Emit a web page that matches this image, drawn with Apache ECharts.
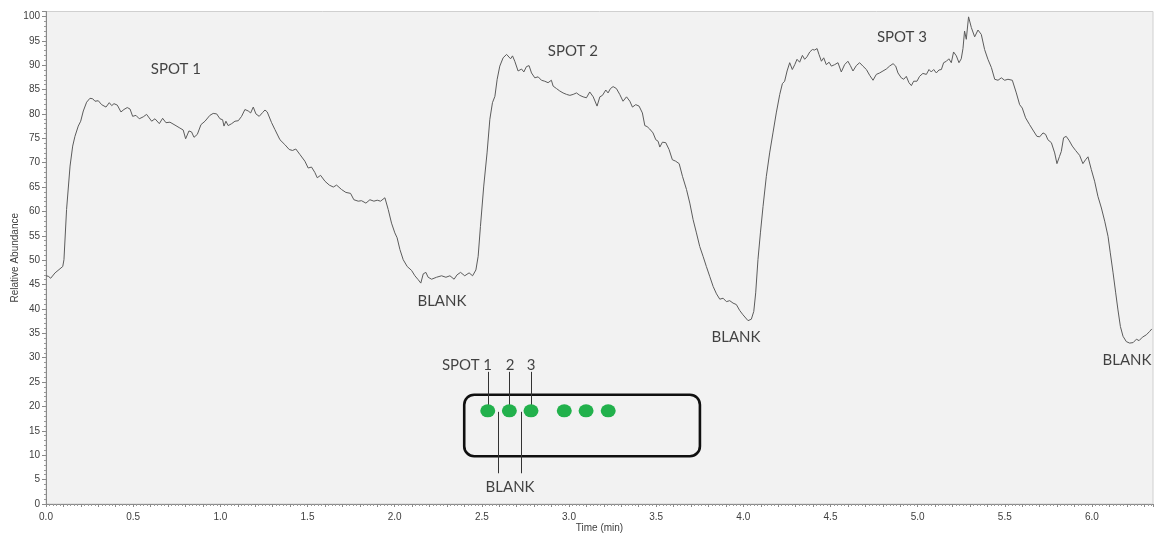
<!DOCTYPE html>
<html>
<head>
<meta charset="utf-8">
<title>Relative Abundance vs Time</title>
<script src="https://cdn.jsdelivr.net/npm/echarts@6/dist/echarts.min.js"></script>
<style>
  html, body { margin: 0; padding: 0; background: #ffffff; }
  #chart { width: 1154px; height: 535px; }
</style>
</head>
<body>
<div id="chart"></div>
<script>
// Chromatogram trace: retention time (min) and relative abundance (%)
const time = [
  0.000, 0.013, 0.027, 0.052, 0.096, 0.103, 0.118, 0.138, 0.153, 0.166, 0.185, 0.199, 0.214, 0.233, 0.252, 0.268,
  0.281, 0.300, 0.319, 0.344, 0.363, 0.377, 0.390, 0.409, 0.430, 0.447, 0.466, 0.482, 0.497, 0.516, 0.535, 0.558,
  0.577, 0.606, 0.625, 0.650, 0.669, 0.688, 0.711, 0.740, 0.768, 0.787, 0.801, 0.820, 0.835, 0.849, 0.868, 0.889,
  0.912, 0.940, 0.959, 0.979, 0.998, 1.013, 1.021, 1.032, 1.045, 1.065, 1.084, 1.103, 1.122, 1.141, 1.160, 1.174,
  1.189, 1.204, 1.223, 1.243, 1.256, 1.269, 1.294, 1.313, 1.342, 1.370, 1.395, 1.414, 1.433, 1.456, 1.485, 1.504,
  1.523, 1.542, 1.556, 1.575, 1.600, 1.625, 1.648, 1.667, 1.695, 1.720, 1.747, 1.766, 1.791, 1.810, 1.835, 1.858,
  1.881, 1.900, 1.919, 1.944, 1.963, 1.982, 2.001, 2.014, 2.030, 2.049, 2.072, 2.097, 2.116, 2.135, 2.150, 2.164,
  2.179, 2.192, 2.212, 2.240, 2.269, 2.294, 2.317, 2.341, 2.358, 2.378, 2.402, 2.427, 2.447, 2.466, 2.479, 2.492,
  2.511, 2.530, 2.546, 2.561, 2.575, 2.588, 2.603, 2.622, 2.642, 2.651, 2.665, 2.676, 2.689, 2.708, 2.728, 2.741,
  2.756, 2.771, 2.785, 2.804, 2.823, 2.842, 2.861, 2.880, 2.899, 2.909, 2.928, 2.947, 2.966, 2.986, 3.005, 3.024,
  3.043, 3.062, 3.081, 3.100, 3.119, 3.139, 3.148, 3.161, 3.177, 3.192, 3.211, 3.224, 3.238, 3.253, 3.272, 3.291,
  3.310, 3.330, 3.349, 3.364, 3.383, 3.402, 3.421, 3.435, 3.448, 3.463, 3.482, 3.498, 3.511, 3.521, 3.536, 3.555,
  3.574, 3.593, 3.612, 3.632, 3.651, 3.674, 3.693, 3.712, 3.731, 3.750, 3.769, 3.788, 3.807, 3.827, 3.846, 3.865,
  3.884, 3.903, 3.922, 3.941, 3.960, 3.979, 3.998, 4.027, 4.046, 4.060, 4.071, 4.084, 4.098, 4.113, 4.132, 4.151,
  4.170, 4.189, 4.209, 4.224, 4.237, 4.251, 4.266, 4.281, 4.295, 4.308, 4.323, 4.339, 4.352, 4.365, 4.381, 4.396,
  4.409, 4.423, 4.434, 4.448, 4.461, 4.476, 4.492, 4.505, 4.524, 4.543, 4.562, 4.581, 4.600, 4.614, 4.629, 4.648,
  4.667, 4.686, 4.706, 4.725, 4.744, 4.763, 4.782, 4.801, 4.820, 4.839, 4.859, 4.874, 4.887, 4.906, 4.920, 4.935,
  4.950, 4.964, 4.977, 4.996, 5.011, 5.030, 5.050, 5.065, 5.078, 5.092, 5.107, 5.122, 5.136, 5.149, 5.165, 5.179,
  5.193, 5.206, 5.222, 5.237, 5.250, 5.260, 5.269, 5.279, 5.292, 5.308, 5.327, 5.346, 5.365, 5.375, 5.384, 5.403,
  5.423, 5.442, 5.461, 5.480, 5.499, 5.518, 5.543, 5.566, 5.585, 5.600, 5.619, 5.642, 5.661, 5.684, 5.700, 5.719,
  5.734, 5.747, 5.767, 5.786, 5.799, 5.814, 5.824, 5.837, 5.852, 5.868, 5.887, 5.906, 5.929, 5.948, 5.963, 5.977,
  5.996, 6.015, 6.034, 6.054, 6.073, 6.092, 6.105, 6.121, 6.136, 6.149, 6.163, 6.178, 6.197, 6.216, 6.236, 6.255,
  6.270, 6.289, 6.312, 6.331, 6.343
];
const abundance = [
  46.8, 46.7, 46.3, 47.4, 48.7, 50.1, 60.4, 69.3, 73.4, 75.4, 77.5, 78.5, 80.6, 82.4, 83.2, 83.1,
  82.6, 82.7, 81.9, 81.4, 82.3, 81.7, 82.1, 81.8, 80.4, 80.9, 81.3, 81.0, 79.5, 79.7, 79.0, 79.4,
  79.9, 78.5, 79.0, 78.0, 79.1, 78.2, 78.3, 77.7, 77.1, 76.7, 74.9, 76.5, 76.3, 75.2, 75.8, 77.8,
  78.5, 79.7, 80.1, 80.0, 79.0, 78.8, 77.5, 78.5, 77.6, 78.0, 78.5, 78.6, 79.5, 80.9, 80.6, 80.2,
  81.4, 80.0, 79.5, 80.3, 80.8, 80.4, 78.2, 76.8, 74.7, 73.7, 72.7, 72.5, 72.8, 71.7, 70.3, 68.9,
  69.1, 68.0, 66.9, 67.4, 66.2, 65.4, 65.0, 65.4, 64.5, 63.9, 63.7, 62.4, 62.1, 62.2, 61.7, 62.4,
  62.1, 62.3, 62.1, 62.8, 60.4, 57.6, 55.6, 54.6, 52.2, 50.1, 48.7, 47.9, 46.8, 46.0, 45.3, 47.2,
  47.5, 46.5, 46.1, 46.5, 46.8, 46.5, 46.8, 46.1, 47.0, 47.5, 46.8, 47.4, 46.8, 48.0, 50.8, 56.9,
  65.2, 72.0, 78.9, 82.3, 83.6, 87.1, 89.8, 91.5, 92.2, 92.4, 91.3, 91.9, 90.8, 88.8, 89.2, 88.6,
  89.7, 89.9, 88.4, 87.4, 87.6, 86.9, 86.7, 86.4, 86.9, 85.7, 85.2, 84.7, 84.3, 84.0, 83.8, 84.0,
  84.3, 83.8, 83.5, 83.3, 84.5, 83.5, 83.1, 81.6, 83.5, 83.8, 84.9, 84.3, 85.2, 85.6, 85.2, 84.0,
  82.6, 83.5, 82.6, 81.4, 81.9, 81.6, 80.2, 77.6, 77.4, 76.9, 76.1, 74.7, 74.4, 73.2, 74.2, 74.1,
  72.7, 70.6, 70.3, 69.8, 67.2, 64.5, 61.7, 58.3, 55.6, 52.8, 50.8, 48.7, 46.7, 44.6, 43.1, 42.0,
  42.2, 41.5, 41.7, 41.2, 40.9, 39.7, 38.8, 37.6, 37.9, 39.5, 43.3, 50.1, 55.6, 61.0, 67.2, 72.0,
  76.1, 80.2, 84.0, 86.2, 86.7, 88.8, 90.5, 89.1, 90.1, 91.2, 90.6, 92.0, 91.2, 91.7, 92.7, 93.2,
  93.1, 93.4, 92.2, 90.8, 91.5, 90.1, 90.6, 89.8, 90.1, 90.5, 88.6, 90.1, 90.8, 89.9, 88.8, 89.9,
  90.5, 89.8, 89.1, 87.9, 86.9, 88.1, 88.4, 88.8, 89.2, 89.8, 90.3, 89.8, 88.4, 87.4, 87.1, 87.7,
  86.4, 85.8, 86.7, 86.7, 87.7, 88.3, 88.1, 89.1, 88.6, 89.1, 88.4, 89.0, 89.1, 90.5, 90.8, 91.3,
  90.5, 92.7, 91.9, 90.5, 91.3, 93.4, 97.0, 95.3, 99.9, 97.7, 95.8, 97.2, 96.3, 96.0, 93.2, 91.2,
  89.5, 87.1, 86.9, 87.4, 86.9, 87.1, 86.9, 84.3, 81.9, 81.2, 79.2, 77.8, 76.7, 75.4, 75.3, 76.1,
  75.8, 74.7, 74.1, 72.0, 69.8, 71.3, 72.3, 75.1, 75.4, 74.6, 73.4, 72.5, 71.5, 69.8, 70.6, 71.2,
  68.6, 66.2, 63.1, 60.7, 58.0, 54.9, 51.5, 47.4, 43.3, 39.8, 36.4, 34.4, 33.3, 33.0, 33.1, 33.8,
  33.5, 34.2, 34.7, 35.4, 35.9
];

// Text annotations on the trace
const noteText = ['SPOT 1', 'SPOT 2', 'SPOT 3', 'BLANK', 'BLANK', 'BLANK'];
const notePos = [[0.745, 89.2], [3.022, 92.9], [4.910, 95.8], [2.271, 41.6], [3.958, 34.3], [6.201, 29.5]];

// Sample plate sketch: spot positions, labels, leader lines and outline
const plateSpots = [[2.534, 19.1], [2.658, 19.1], [2.782, 19.1], [2.973, 19.1], [3.098, 19.1], [3.225, 19.1]];
const plateText = ['SPOT 1', '2', '3', 'BLANK'];
const plateTextPos = [[2.415, 28.5], [2.662, 28.5], [2.782, 28.5], [2.662, 3.5]];
const plateLeaders = [
  [[2.534, 27.1], [2.534, 19.3]],
  [[2.658, 27.1], [2.658, 19.3]],
  [[2.782, 27.1], [2.782, 19.3]],
  [[2.594, 18.9], [2.594, 6.3]],
  [[2.725, 18.9], [2.725, 6.3]]
];
const plateOutline = [[2.399, 22.4, 3.751, 9.8]];

const traceData = time.map((t, i) => [t, abundance[i]]);
const textFont = 'Lato, "Open Sans", sans-serif';
const axisFont = '"Liberation Sans", Arial, sans-serif';

const chart = echarts.init(document.getElementById('chart'), null, { renderer: 'canvas' });

function textSeries(names, positions, z) {
  return {
    type: 'scatter',
    silent: true,
    symbol: 'circle',
    symbolSize: 1,
    itemStyle: { color: 'rgba(0,0,0,0)' },
    z: z,
    data: names.map((n, i) => ({ name: n, value: positions[i] })),
    label: {
      show: true,
      position: 'inside',
      formatter: '{b}',
      color: '#141414',
      fontFamily: textFont,
      fontSize: 15
    }
  };
}

chart.setOption({
  animation: false,
  backgroundColor: '#ffffff',
  grid: {
    left: 46, right: 1, top: 11.5, bottom: 31,
    containLabel: false,
    outerBoundsMode: 'none',
    show: true,
    backgroundColor: '#f2f2f2',
    borderColor: '#d0d0d0',
    borderWidth: 1
  },
  xAxis: {
    type: 'value',
    min: 0,
    max: 6.35,
    interval: 0.1,
    name: 'Time (min)',
    nameLocation: 'middle',
    nameGap: 19,
    nameMoveOverlap: false,
    nameTextStyle: { fontFamily: axisFont, fontSize: 10, color: '#404040' },
    splitLine: { show: false },
    axisLine: { show: true, lineStyle: { color: '#8a8a8a', width: 1 } },
    axisTick: { show: true, length: 3, lineStyle: { color: '#8a8a8a' } },
    minorTick: { show: true, splitNumber: 5, length: 2, lineStyle: { color: '#9a9a9a' } },
    minorSplitLine: { show: false },
    axisLabel: {
      margin: 8,
      fontFamily: axisFont,
      fontSize: 10,
      color: '#404040',
      formatter: function (v) {
        const d = v * 2;
        return Math.abs(d - Math.round(d)) < 1e-6 ? v.toFixed(1) : '';
      }
    }
  },
  yAxis: {
    type: 'value',
    min: 0,
    max: 101,
    interval: 5,
    name: 'Relative Abundance',
    nameLocation: 'middle',
    nameRotate: 90,
    nameGap: 26,
    nameMoveOverlap: false,
    nameTextStyle: { fontFamily: axisFont, fontSize: 10, color: '#404040' },
    splitLine: { show: false },
    axisLine: { show: true, lineStyle: { color: '#8a8a8a', width: 1 } },
    axisTick: { show: true, length: 4, lineStyle: { color: '#8a8a8a' } },
    minorTick: { show: true, splitNumber: 5, length: 2, lineStyle: { color: '#9a9a9a' } },
    minorSplitLine: { show: false },
    axisLabel: {
      margin: 6,
      fontFamily: axisFont,
      fontSize: 10,
      color: '#404040',
      formatter: function (v) {
        return (v % 5 === 0 && v <= 100) ? String(v) : '';
      }
    }
  },
  series: [
    {
      name: 'Relative Abundance',
      type: 'line',
      data: traceData,
      symbol: 'none',
      smooth: false,
      lineStyle: { color: '#5c5c5c', width: 1 },
      z: 3
    },
    textSeries(noteText, notePos, 5),
    {
      type: 'custom',
      silent: true,
      z: 4,
      encode: { x: [0, 2], y: [1, 3] },
      data: plateOutline,
      renderItem: function (params, api) {
        const p0 = api.coord([api.value(0), api.value(1)]);
        const p1 = api.coord([api.value(2), api.value(3)]);
        return {
          type: 'rect',
          shape: { x: p0[0], y: p0[1], width: p1[0] - p0[0], height: p1[1] - p0[1], r: 10 },
          style: { fill: 'none', stroke: '#101010', lineWidth: 2.6 }
        };
      }
    },
    {
      type: 'lines',
      coordinateSystem: 'cartesian2d',
      silent: true,
      z: 4,
      lineStyle: { color: '#333333', width: 1, opacity: 1 },
      data: plateLeaders.map(c => ({ coords: c }))
    },
    {
      type: 'scatter',
      silent: true,
      z: 6,
      symbol: 'circle',
      symbolSize: [15, 13],
      itemStyle: { color: '#22b14c', opacity: 1 },
      data: plateSpots
    },
    textSeries(plateText, plateTextPos, 5)
  ]
});
</script>
</body>
</html>
